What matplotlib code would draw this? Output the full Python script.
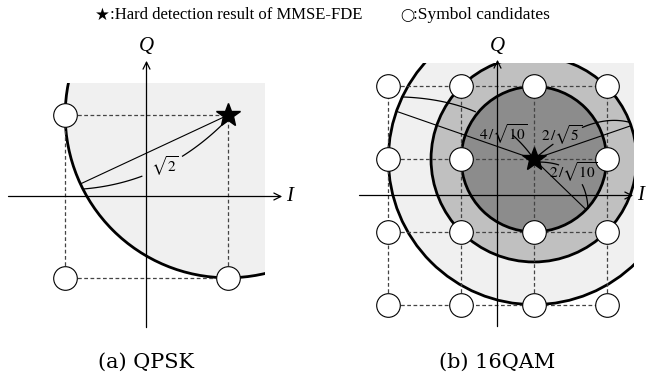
import numpy as np
import matplotlib
matplotlib.use("Agg")
import matplotlib.pyplot as plt
from matplotlib.patches import Circle, Rectangle

plt.rcParams["mathtext.fontset"] = "stix"

# --- constellation data (normalised amplitude) ---
qpsk_levels = [-0.707, 0.707]
qpsk_star = (0.707, 0.707)
qpsk_radii = [1.414]
qpsk_shades = ["#f0f0f0"]
qpsk_box = (1.03, 0.99)          # right / top edge of shaded area

qam_levels = [-0.949, -0.316, 0.316, 0.949]
qam_star = (0.316, 0.316)
qam_radii = [1.265, 0.894, 0.632]
qam_shades = ["#f0f0f0", "#c0c0c0", "#8c8c8c"]
qam_box = (1.19, 1.15)

i_span = (-1.2, 1.18)
q_span = (-1.14, 1.18)

captions = ["(a) QPSK", "(b) 16QAM"]
legend_glyphs = ["\u2605", "\u25ef"]
legend_text = [":Hard detection result of MMSE-FDE", ":Symbol candidates"]

# distance marks: ray angle, ray length, curve start, control, end, gap, label, label pos
qpsk_marks = [
    dict(angle=205, r=1.414, p0=(-0.553, 0.065), ctrl=(0.161, 0.122), p2=(0.691, 0.657),
         gap=(0.38, 0.66), label=r"$\sqrt{2}$", pos=(0.16, 0.265)),
]
qam_marks = [
    dict(angle=160.8, r=1.265, p0=(-0.830, 0.857), ctrl=(-0.065, 0.830), p2=(0.291, 0.352),
         gap=(0.48, 0.80), label=r"$4\,/\sqrt{10}$", pos=(0.05, 0.535)),
    dict(angle=19, r=0.894, p0=(1.151, 0.636), ctrl=(0.804, 0.726), p2=(0.352, 0.343),
         gap=(0.55, 0.85), label=r"$2\,/\sqrt{5}$", pos=(0.56, 0.526)),
    dict(angle=-44, r=0.632, p0=(0.352, 0.291), ctrl=(0.761, 0.291), p2=(0.787, -0.109),
         gap=(0.25, 0.70), label=r"$2\,/\sqrt{10}$", pos=(0.66, 0.204)),
]

W, H = 648, 378
S = 115.0  # pixels per unit

fig = plt.figure(figsize=(6.48, 3.78), dpi=100)


def make_panel(left_px, ox, oy):
    ax = fig.add_axes([left_px / W, 0, 324 / W, 1])
    ax.set_xlim((left_px - ox) / S, (left_px + 324 - ox) / S)
    ax.set_ylim((oy - H) / S, oy / S)
    ax.axis("off")
    return ax


def draw_panel(ax, levels, star, radii, shades, box, marks, caption):
    clip = Rectangle((-3, -3), box[0] + 3, box[1] + 3, transform=ax.transData)
    for r, c in zip(radii, shades):
        p = Circle(star, r, facecolor=c, edgecolor="none", zorder=1)
        ax.add_patch(p)
        p.set_clip_path(clip)
    for r in radii:
        p = Circle(star, r, fill=False, edgecolor="black", lw=2, zorder=2)
        ax.add_patch(p)
        p.set_clip_path(clip)

    lo, hi = min(levels), max(levels)
    for v in levels:
        ax.plot([lo, hi], [v, v], color="#444444", lw=0.9, ls=(0, (3, 2)), zorder=2)
        ax.plot([v, v], [lo, hi], color="#444444", lw=0.9, ls=(0, (3, 2)), zorder=2)

    arrow = dict(arrowstyle="->,head_length=0.5,head_width=0.25", lw=0.9, color="black",
                 shrinkA=0, shrinkB=0)
    ax.annotate("", xy=(i_span[1], 0), xytext=(i_span[0], 0), arrowprops=arrow, zorder=3)
    ax.annotate("", xy=(0, q_span[1]), xytext=(0, q_span[0]), arrowprops=arrow, zorder=3)
    ax.text(i_span[1] + 0.03, 0, "I", fontsize=15, style="italic", family="Liberation Serif",
            ha="left", va="center")
    ax.text(0, q_span[1] + 0.12, "Q", fontsize=15, style="italic", family="Liberation Serif",
            ha="center", va="center")

    t = np.linspace(0, 1, 200)
    for m in marks:
        a = np.radians(m["angle"])
        ax.plot([star[0], star[0] + m["r"] * np.cos(a)], [star[1], star[1] + m["r"] * np.sin(a)],
                color="black", lw=0.8, zorder=3)
        p0, c, p2 = np.array(m["p0"]), np.array(m["ctrl"]), np.array(m["p2"])
        pts = ((1 - t) ** 2)[:, None] * p0 + (2 * t * (1 - t))[:, None] * c + (t ** 2)[:, None] * p2
        for sel in (t <= m["gap"][0], t >= m["gap"][1]):
            ax.plot(pts[sel, 0], pts[sel, 1], color="black", lw=0.9, zorder=3)
        ax.text(m["pos"][0], m["pos"][1], m["label"], fontsize=11, ha="center", va="center",
                zorder=7)

    xs = [x for x in levels for y in levels if (x, y) != star]
    ys = [y for x in levels for y in levels if (x, y) != star]
    ax.plot(xs, ys, "o", ms=17, mfc="white", mec="black", mew=0.8, zorder=5)
    ax.plot(*star, "*", ms=18, color="black", zorder=6)

    ax.text(0, (H - 362) / S + ax.get_ylim()[0], caption, fontsize=15, family="DejaVu Serif",
            ha="center", va="center")


ax1 = make_panel(0, 146.5, 196.5)
draw_panel(ax1, qpsk_levels, qpsk_star, qpsk_radii, qpsk_shades, qpsk_box, qpsk_marks, captions[0])
ax2 = make_panel(324, 497.5, 195.5)
draw_panel(ax2, qam_levels, qam_star, qam_radii, qam_shades, qam_box, qam_marks, captions[1])

# legend line at the top: glyph, then description
fig.text(95 / W, 1 - 15 / H, legend_glyphs[0], fontsize=12, ha="left", va="center",
         family="DejaVu Sans")
fig.text(110 / W, 1 - 15 / H, legend_text[0], fontsize=12, ha="left", va="center",
         family="Liberation Serif")
fig.text(400 / W, 1 - 15 / H, legend_glyphs[1], fontsize=9, ha="left", va="center",
         family="DejaVu Sans")
fig.text(413 / W, 1 - 15 / H, legend_text[1], fontsize=12.5, ha="left", va="center",
         family="Liberation Serif")

fig.savefig("out.png", dpi=100)
